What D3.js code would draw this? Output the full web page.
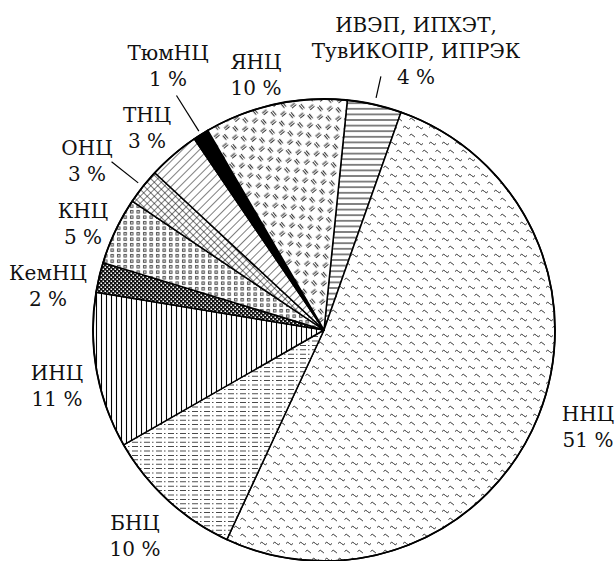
<!DOCTYPE html>
<html>
<head>
<meta charset="utf-8">
<script src="https://cdn.jsdelivr.net/npm/d3@7"></script>
<style>
  html, body { margin: 0; padding: 0; background: #fff; }
  .lbl { font-family: "DejaVu Serif", serif; font-size: 20px; }
</style>
</head>
<body>
<div id="chart"></div>
<script>
// Data (clockwise from the top, starting with the small wedge right of 12 o'clock)
const names = ["ИВЭП, ИПХЭТ,|ТувИКОПР, ИПРЭК", "ННЦ", "БНЦ", "ИНЦ", "КемНЦ", "КНЦ", "ОНЦ", "ТНЦ", "ТюмНЦ", "ЯНЦ"];
const shares = [3.8, 51.5, 9.8, 10.9, 2.1, 4.7, 2.5, 3.6, 1.1, 10.0];
const shareLabels = ["4 %", "51 %", "10 %", "11 %", "2 %", "5 %", "3 %", "3 %", "1 %", "10 %"];
const patternIds = ["p-ivep", "p-nnc", "p-bnc", "p-inc", "p-kemnc", "p-knc", "p-onc", "p-tnc", "p-tyum", "p-yanc"];

// Layout
const config = {
  width: 615,
  height: 561,
  cx: 324,
  cy: 330,
  radius: 231,
  startDeg: 5.8,
};
// label anchor (centre x, baseline of first line) and leader lines
const labelPos = [
  [416, 32], [588, 421], [135, 530], [57, 380], [48, 280],
  [83, 218], [87, 155], [147, 122], [168, 60], [256, 69],
];
const lineHeight = 26;
const leaders = { 0: [7, 29], 6: [6, 40], 8: [4, 46] }; // index -> [inner gap, outer gap] beyond radius

const svg = d3.select("#chart")
  .append("svg")
  .attr("width", config.width)
  .attr("height", config.height);

// Hatch patterns
const defs = svg.append("defs");
function pattern(id, w, h, transform) {
  const p = defs.append("pattern")
    .attr("id", id)
    .attr("patternUnits", "userSpaceOnUse")
    .attr("width", w)
    .attr("height", h);
  if (transform) p.attr("patternTransform", transform);
  p.append("rect").attr("width", w).attr("height", h).attr("fill", "#fff");
  return p;
}

// horizontal lines
pattern("p-ivep", 8, 5.6)
  .append("line").attr("x1", 0).attr("x2", 8).attr("y1", 2.8).attr("y2", 2.8)
  .attr("stroke", "#222").attr("stroke-width", 1.1);

// small tildes
const pn = pattern("p-nnc", 13, 16);
["M1,5.5 q1.75,-2.6 3.5,0 t3.5,0", "M7.5,13.5 q1.75,-2.6 3.5,0 t3.5,0"].forEach(d =>
  pn.append("path").attr("d", d).attr("fill", "none").attr("stroke", "#333").attr("stroke-width", 1));

// dash-dot horizontal lines
pattern("p-bnc", 12, 4.4)
  .append("line").attr("x1", 0).attr("x2", 12).attr("y1", 2.2).attr("y2", 2.2)
  .attr("stroke", "#333").attr("stroke-width", 1)
  .attr("stroke-dasharray", "6,2,1.5,2.5");

// vertical lines
pattern("p-inc", 5, 10)
  .append("line").attr("x1", 2.5).attr("x2", 2.5).attr("y1", 0).attr("y2", 10)
  .attr("stroke", "#000").attr("stroke-width", 1.1);

// dense checker
const pk = pattern("p-kemnc", 4, 4);
pk.select("rect").attr("fill", "#111");
pk.append("rect").attr("x", 0.5).attr("y", 0.5).attr("width", 1.5).attr("height", 1.5).attr("fill", "#fff");
pk.append("rect").attr("x", 2.5).attr("y", 2.5).attr("width", 1.5).attr("height", 1.5).attr("fill", "#fff");

// small hollow squares
pattern("p-knc", 6.5, 5.5)
  .append("rect").attr("x", 1.5).attr("y", 1.5).attr("width", 2.4).attr("height", 2.4)
  .attr("fill", "none").attr("stroke", "#333").attr("stroke-width", 0.9);

// diagonal cross hatch
const po = pattern("p-onc", 5, 5, "rotate(45)");
po.append("line").attr("x1", 0).attr("x2", 0).attr("y1", 0).attr("y2", 5).attr("stroke", "#000").attr("stroke-width", 1);
po.append("line").attr("x1", 0).attr("x2", 5).attr("y1", 0).attr("y2", 0).attr("stroke", "#000").attr("stroke-width", 1);

// single diagonal lines
pattern("p-tnc", 6, 10, "rotate(45)")
  .append("line").attr("x1", 0).attr("x2", 0).attr("y1", 0).attr("y2", 10)
  .attr("stroke", "#000").attr("stroke-width", 1);

// solid black
pattern("p-tyum", 4, 4).select("rect").attr("fill", "#000");

// paired dashes in a diagonal lattice
const py = pattern("p-yanc", 13, 13, "rotate(-40)");
[[1, 2.2, 6.5, 2.2], [1, 4.4, 6.5, 4.4], [8.4, 7, 8.4, 12.5], [10.6, 7, 10.6, 12.5]].forEach(([x1, y1, x2, y2]) =>
  py.append("line").attr("x1", x1).attr("y1", y1).attr("x2", x2).attr("y2", y2)
    .attr("stroke", "#222").attr("stroke-width", 1));

// Pie
const start = config.startDeg * Math.PI / 180;
const pie = d3.pie().sort(null).startAngle(start).endAngle(start + 2 * Math.PI);
const arcs = pie(shares);
const arc = d3.arc().innerRadius(0).outerRadius(config.radius);

const g = svg.append("g").attr("transform", `translate(${config.cx}, ${config.cy})`);

g.selectAll(".slice")
  .data(arcs)
  .enter()
  .append("path")
  .attr("class", "slice")
  .attr("d", arc)
  .attr("fill", (d, i) => `url(#${patternIds[i]})`)
  .attr("stroke", "#000")
  .attr("stroke-width", 1.5)
  .attr("stroke-linejoin", "round");

g.append("circle")
  .attr("r", config.radius)
  .attr("fill", "none")
  .attr("stroke", "#000")
  .attr("stroke-width", 1.8);

// Leader lines for the crowded wedges
Object.entries(leaders).forEach(([i, [a, b]]) => {
  const d = arcs[+i];
  const mid = (d.startAngle + d.endAngle) / 2;
  const r1 = config.radius + a, r2 = config.radius + b;
  g.append("line")
    .attr("x1", r1 * Math.sin(mid)).attr("y1", -r1 * Math.cos(mid))
    .attr("x2", r2 * Math.sin(mid)).attr("y2", -r2 * Math.cos(mid))
    .attr("stroke", "#000").attr("stroke-width", 1.2);
});

// Labels
names.forEach((name, i) => {
  const lines = name.split("|").concat([shareLabels[i]]);
  const [x, y] = labelPos[i];
  const t = svg.append("text")
    .attr("class", "lbl")
    .attr("text-anchor", "middle")
    .attr("fill", "#111");
  lines.forEach((s, k) => {
    t.append("tspan").attr("x", x).attr("y", y + k * lineHeight).text(s);
  });
});
</script>
</body>
</html>
